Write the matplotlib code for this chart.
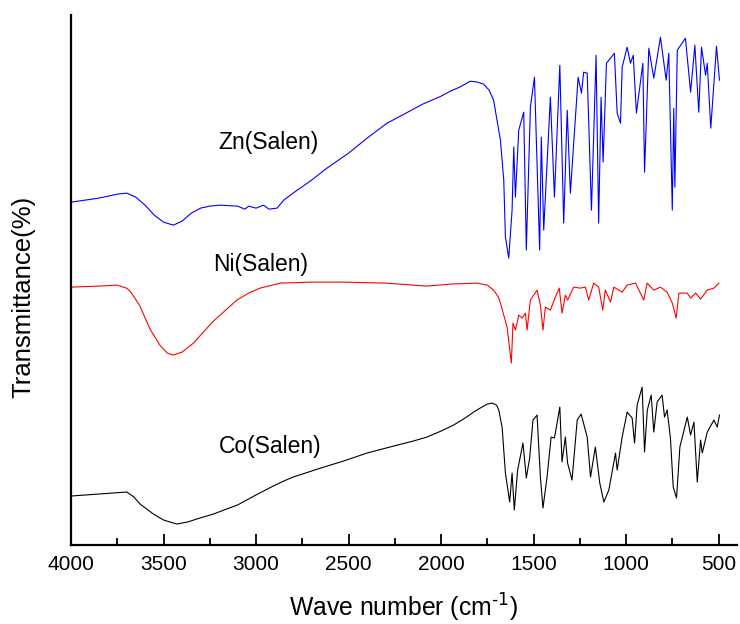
#!/usr/bin/env python3
# -*- coding: utf-8 -*-
import numpy as np
import matplotlib
matplotlib.use('Agg')
import matplotlib.pyplot as plt
from matplotlib.ticker import MultipleLocator

plt.rcParams['font.family'] = ['Liberation Sans', 'DejaVu Sans']

# Zn(Salen) spectrum (wavenumber, offset transmittance)
zn_wn = [4000, 3850, 3750, 3699, 3650, 3600, 3550, 3500, 3447, 3400, 3350, 3300,
         3250, 3194, 3100, 3060, 3040, 3000, 2960, 2930, 2887, 2850, 2800, 2700,
         2617, 2500, 2400, 2292, 2200, 2100, 2000, 1950, 1900, 1842, 1800, 1770,
         1740, 1716, 1679, 1661, 1652, 1634, 1616, 1607, 1598, 1580, 1553,
         1539, 1517, 1495, 1467, 1458, 1445, 1409, 1387, 1358, 1337, 1318, 1301,
         1259, 1241, 1229, 1210, 1187, 1162, 1148, 1135, 1124, 1106, 1084, 1063,
         1048, 1030, 1021, 994, 976, 961, 944, 909, 900, 877, 850, 814, 783, 769,
         750, 742, 736, 723, 679, 651, 628, 607, 592, 570, 561, 542, 511, 495]
zn_t = [343, 347, 351, 352, 348, 340, 330, 323, 320, 324, 332, 337,
        339, 340, 339, 336, 339, 337, 340, 336, 337, 345, 352, 365,
        377, 392, 407, 422, 431, 441, 449, 454, 458, 464, 463, 461,
        455, 445, 405, 365, 308, 287, 335, 398, 348, 415, 433,
        295, 438, 468, 295, 408, 315, 448, 348, 480, 322, 435, 352,
        468, 452, 473, 472, 335, 490, 322, 448, 383, 482, 487, 492,
        432, 422, 478, 498, 482, 490, 432, 482, 373, 497, 467, 508, 465, 492,
        335, 437, 358, 495, 507, 453, 500, 433, 498, 470, 482, 417, 499, 465]

# Ni(Salen) spectrum
ni_wn = [4000, 3850, 3753, 3700, 3681, 3630, 3573, 3520, 3480, 3447, 3400, 3338,
         3280, 3230, 3170, 3104, 3040, 2978, 2869, 2700, 2527, 2300, 2076, 1950,
         1805, 1750, 1716, 1690, 1679, 1643, 1620, 1611, 1598, 1580, 1562, 1544, 1535,
         1517, 1481, 1463, 1449, 1436, 1409, 1382, 1361, 1346, 1328, 1316, 1283,
         1247, 1220, 1202, 1175, 1148, 1126, 1112, 1084, 1066, 1021, 994, 949,
         904, 886, 850, 814, 778, 750, 729, 714, 669, 651, 624, 597, 561, 525, 498]
ni_t = [258, 259, 260, 257, 254, 240, 216, 200, 192, 190, 193, 202,
        214, 224, 234, 245, 252, 257, 262, 263, 263, 262, 259, 261,
        262, 260, 255, 248, 242, 218, 182, 222, 215, 230, 227, 232, 215,
        245, 255, 240, 215, 238, 235, 248, 257, 232, 250, 245, 258,
        257, 258, 245, 262, 258, 235, 255, 243, 258, 253, 260, 262,
        245, 262, 255, 258, 253, 242, 227, 252, 252, 247, 252, 246, 255, 257, 262]

# Co(Salen) spectrum
co_wn = [4000, 3850, 3699, 3660, 3627, 3555, 3500, 3429, 3370, 3303, 3230, 3159,
         3100, 3051, 2980, 2907, 2850, 2799, 2650, 2527, 2400, 2256, 2150, 2076,
         2000, 1932, 1870, 1824, 1788, 1750, 1724, 1700, 1688, 1670, 1652, 1629,
         1616, 1604, 1586,
         1557, 1539, 1521, 1503, 1481, 1463, 1449, 1427, 1405, 1387, 1358, 1346,
         1328, 1316, 1292, 1264, 1243, 1210, 1192, 1166, 1142, 1120, 1093, 1057,
         1048, 1021, 994, 967, 954, 940, 913, 900, 885, 864, 850, 832, 805, 792,
         778, 760, 745, 727, 709, 669, 651, 633, 615, 597, 588, 561, 525, 507, 495]
co_t = [49, 51, 53, 48, 41, 31, 25, 21, 23, 27, 31, 36,
        40, 45, 52, 59, 64, 68, 77, 84, 92, 99, 104, 108,
        114, 120, 127, 133, 137, 141, 142, 140, 135, 118, 72, 43,
        72, 35, 75,
        102, 67, 87, 125, 130, 68, 37, 68, 108, 107, 138, 83,
        108, 82, 65, 125, 131, 108, 68, 98, 62, 43, 55, 92,
        75, 108, 133, 127, 102, 140, 158, 93, 135, 150, 113, 143, 150, 128,
        135, 107, 58, 47, 98, 128, 110, 123, 63, 105, 92, 113, 125, 118, 130]

labels = ['Zn(Salen)', 'Ni(Salen)', 'Co(Salen)']
label_pos = [(2934, 403), (2977, 281), (2923, 99)]

fig = plt.figure(figsize=(7.4, 6.24), dpi=100)
ax = fig.add_axes([0.096, 0.1266, 0.9, 0.849])

ax.plot(zn_wn, zn_t, color='#0000ff', lw=0.8)
ax.plot(ni_wn, ni_t, color='#ff0000', lw=0.8)
ax.plot(co_wn, co_t, color='black', lw=0.8)

for txt, (x, y) in zip(labels, label_pos):
    ax.text(x, y, txt, fontsize=16.5, ha='center', va='center')

ax.set_xlim(4000, 400)
ax.set_ylim(0, 530)
ax.xaxis.set_minor_locator(MultipleLocator(250))
ax.set_xticks([4000, 3500, 3000, 2500, 2000, 1500, 1000, 500])
ax.set_yticks([])
ax.tick_params(axis='x', which='major', direction='in', length=8, width=1.3,
               labelsize=15, pad=7)
ax.tick_params(axis='x', which='minor', direction='in', length=5, width=1.3)
for s in ['top', 'right']:
    ax.spines[s].set_visible(False)
for s in ['left', 'bottom']:
    ax.spines[s].set_linewidth(1.6)

ax.set_xlabel('Wave number (cm$^{\\text{-1}}$)', fontsize=17.8, labelpad=13)
ax.set_ylabel('Transmittance(%)', fontsize=18.5)
ax.yaxis.set_label_coords(-0.053, 0.468)

plt.savefig('out.png', dpi=100)
